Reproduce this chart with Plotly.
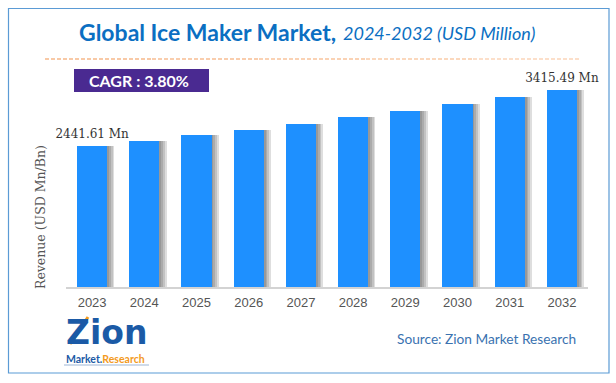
import plotly.graph_objects as go

years = ["2023", "2024", "2025", "2026", "2027", "2028", "2029", "2030", "2031", "2032"]
revenue = [2441.61, 2534.4, 2630.7, 2730.7, 2834.4, 2942.1, 3053.9, 3170.0, 3290.5, 3415.49]
label_years = ["2023", "2032"]
label_values = [2441.61, 3415.49]
label_texts = ["2441.61 Mn", "3415.49 Mn"]
cagr_text = "CAGR : 3.80%"

W, H = 616, 383
L, R, T, B = 66, 28, 80, 96
PW, PH = W - L - R, H - T - B


def px(x):
    return (x - L) / PW


def py(y):
    return (H - B - y) / PH


BAR_W = 0.575
fig = go.Figure()

# soft shadow layers on the right of each bar
for i in range(4):
    fig.add_trace(go.Bar(
        x=years, y=revenue,
        width=BAR_W + 0.035 * (i + 1),
        offset=-BAR_W / 2,
        marker=dict(color="rgba(60,60,60,0.17)", line=dict(width=0)),
        hoverinfo="skip", showlegend=False,
    ))

fig.add_trace(go.Bar(
    x=years, y=revenue,
    width=BAR_W, offset=-BAR_W / 2,
    marker=dict(color="#1E90FF", line=dict(width=0)),
    showlegend=False,
))

fig.add_trace(go.Scatter(
    x=label_years, y=label_values, text=label_texts,
    mode="markers+text", textposition="top center",
    marker=dict(size=7, opacity=0),
    textfont=dict(family="DejaVu Serif", size=12, color="#333333"),
    hoverinfo="skip", showlegend=False, cliponaxis=False,
))

shapes = [
    dict(type="rect", xref="paper", yref="paper", x0=px(8.5), x1=px(609), y0=py(373), y1=py(8.5),
         line=dict(color="#5B9BD5", width=1.2), fillcolor="rgba(0,0,0,0)", layer="below"),
    dict(type="rect", xref="paper", yref="paper", x0=px(74), x1=px(209), y0=py(92), y1=py(69),
         line=dict(width=0), fillcolor="#4A2A91", layer="below"),
]
seg_cols = ["#F2934F", "#F39B5C", "#F5A66B", "#F7B27D", "#F9C096"]
x_start, x_end = 45, 580
n = len(seg_cols)
for k, c in enumerate(seg_cols):
    a = x_start + (x_end - x_start) * k / n
    b = x_start + (x_end - x_start) * (k + 1) / n
    shapes.append(dict(type="line", xref="paper", yref="paper", x0=px(a), x1=px(b), y0=py(59), y1=py(59),
                       line=dict(color=c, width=1.2, dash="4px,2px")))
# logo underline swoosh and orange arrow across the Z
shapes.append(dict(type="line", xref="paper", yref="paper", x0=px(64), x1=px(149), y0=py(365), y1=py(365),
                   line=dict(color="#9DB6D6", width=1)))
shapes.append(dict(type="line", xref="paper", yref="paper", x0=px(70), x1=px(88), y0=py(344), y1=py(317),
                   line=dict(color="#F39A1E", width=3)))

annotations = [
    dict(xref="paper", yref="paper", x=px(338), y=py(32), xanchor="right", yanchor="middle", showarrow=False,
         text="Global Ice Maker Market,",
         font=dict(family="Lato", size=23, color="#0B6FC2", weight="bold")),
    dict(xref="paper", yref="paper", x=px(341), y=py(33), xanchor="left", yanchor="middle", showarrow=False,
         text="<i>2024-2032 (USD Million)</i>",
         font=dict(family="Lato", size=18, color="#0B6FC2")),
    dict(xref="paper", yref="paper", x=px(87), y=py(80.5), xanchor="left", yanchor="middle", showarrow=False,
         text=cagr_text, font=dict(family="Lato", size=16, color="#FFFFFF", weight="bold")),
    dict(xref="paper", yref="paper", x=px(40), y=py(217), xanchor="center", yanchor="middle", showarrow=False,
         text="Revenue (USD Mn/Bn)", textangle=-90,
         font=dict(family="DejaVu Serif", size=12.5, color="#555555")),
    dict(xref="paper", yref="paper", x=px(578), y=py(338), xanchor="right", yanchor="middle", showarrow=False,
         text="Source: Zion Market Research", font=dict(family="Lato", size=13.7, color="#3A72B0")),
    dict(xref="paper", yref="paper", x=px(64), y=py(332), xanchor="left", yanchor="middle", showarrow=False,
         text="Zion",
         font=dict(family="DejaVu Sans", size=33, color="#1B5AA6", weight="bold")),
    dict(xref="paper", yref="paper", x=px(64), y=py(351), xanchor="left", yanchor="top", showarrow=False,
         text='Market.<span style="color:#F39A1E">Research</span>',
         font=dict(family="Lato", size=10.5, color="#1B5AA6", weight="bold")),
]

fig.update_layout(
    width=W, height=H,
    margin=dict(l=L, r=R, t=T, b=B),
    paper_bgcolor="#FFFFFF", plot_bgcolor="#FFFFFF",
    barmode="overlay", bargap=0,
    shapes=shapes, annotations=annotations,
    xaxis=dict(type="category", range=[-0.5, 9.5], showgrid=False, showline=True, linecolor="#D3D3D3",
               linewidth=1.5, ticks="", tickfont=dict(family="Liberation Sans", size=13, color="#555555"),
               ticklabelstandoff=3, zeroline=False, fixedrange=True),
    yaxis=dict(range=[0, 3589], showgrid=False, showticklabels=False, showline=False, zeroline=False,
               ticks="", fixedrange=True),
)

fig.write_html("out.html", config={"displayModeBar": False},
               post_script="document.body.style.margin='0';")
